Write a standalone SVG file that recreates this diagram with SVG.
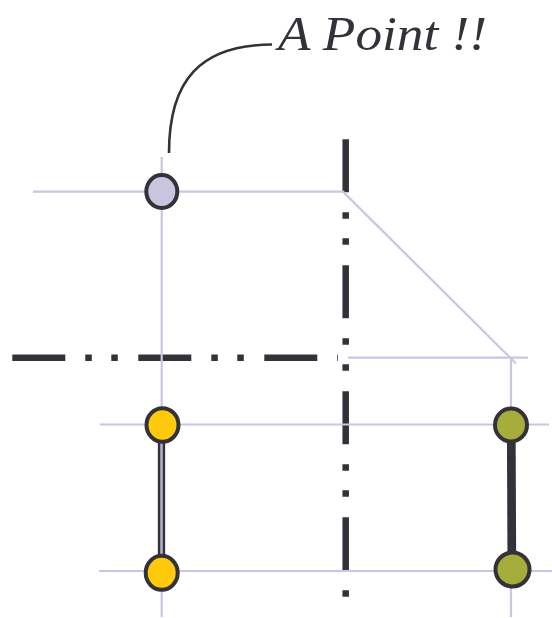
<svg xmlns="http://www.w3.org/2000/svg" width="552" height="618" viewBox="0 0 552 618">
<defs>
<style>
.axis{fill:none;stroke:#333238;stroke-width:6.5;stroke-dasharray:53 20 6.5 19.5 6.5 20.5;stroke-linecap:butt}
.grid{fill:none;stroke:#c9c5e2;stroke-width:2.2}
.node{stroke:#333238;stroke-width:4}
.lav{fill:#c8c5e1}
.yel{fill:#ffc90c}
.grn{fill:#a7ad3a}
.label{font-family:"Liberation Serif","Times New Roman",serif;font-style:italic;font-size:49px;fill:#333238}
</style>
</defs>
<rect width="552" height="618" fill="#ffffff"/>
<g id="axes">
<line class="axis" x1="345.7" y1="139.3" x2="345.7" y2="597"/>
<line class="axis" x1="12.3" y1="357.7" x2="338" y2="357.7"/>
</g>
<g id="grid">
<path class="grid" d="M33,191.7 H343 L516,363.5"/>
<path class="grid" d="M161.7,157 V617"/>
<path class="grid" d="M348,357.7 H528"/>
<path class="grid" d="M511,357.7 V617"/>
<path class="grid" d="M100,424.5 H549"/>
<path class="grid" d="M99,571 H552"/>
</g>
<g id="connectors">
<line x1="161.5" y1="440" x2="161.5" y2="558" stroke="#333238" stroke-width="7.3"/>
<line x1="161.5" y1="440" x2="161.5" y2="558" stroke="#b7b3cb" stroke-width="2.5"/>
<line x1="511.3" y1="440" x2="511.8" y2="555" stroke="#333238" stroke-width="8.7"/>
<path d="M169,153 C169,80 200,45 272,44.5" fill="none" stroke="#333238" stroke-width="2.6"/>
</g>
<g id="point-a">
<ellipse class="node lav" cx="161.8" cy="191.5" rx="15.5" ry="16.5"/>
</g>
<g id="yellow-top">
<ellipse class="node yel" cx="162.5" cy="425" rx="16" ry="16.7"/>
</g>
<g id="yellow-bottom">
<ellipse class="node yel" cx="161.7" cy="572.8" rx="16" ry="17"/>
</g>
<g id="green-top">
<ellipse class="node grn" cx="511" cy="425" rx="16" ry="16.5"/>
</g>
<g id="green-bottom">
<ellipse class="node grn" cx="512.5" cy="569.5" rx="17" ry="17"/>
</g>
<g id="label">
<text class="label" x="278" y="49.5" textLength="209" lengthAdjust="spacingAndGlyphs">A Point !!</text>
</g>
</svg>
